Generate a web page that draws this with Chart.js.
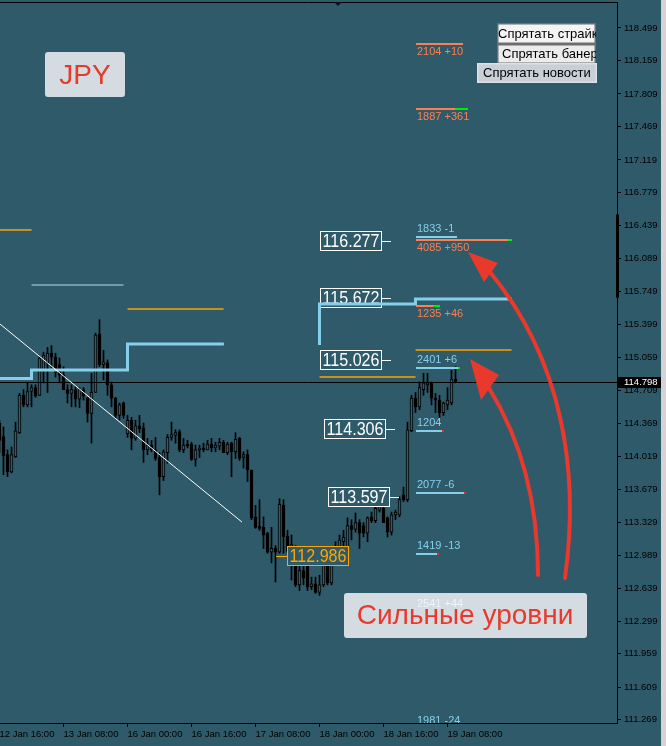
<!DOCTYPE html>
<html>
<head>
<meta charset="utf-8">
<script src="https://cdn.jsdelivr.net/npm/chart.js@4.4.1/dist/chart.umd.min.js"></script>
<style>
  html, body { margin: 0; padding: 0; background: #2f5a69; overflow: hidden; }
  #c { display: block; }
</style>
</head>
<body>
<canvas id="c" width="666" height="746"></canvas>
<script>
// USDJPY H1, bars from 12 Jan 16:00
const opens  = [114.37,114.23,114.04,113.86,114.02,114.27,114.66,114.56,114.70,114.74,114.66,114.92,115.00,115.10,115.06,114.98,114.87,114.72,114.68,114.72,114.62,114.72,114.63,114.47,114.69,115.30,114.98,115.00,114.77,114.63,114.45,114.58,114.26,114.40,114.21,114.34,114.32,114.09,114.14,114.09,114.01,113.81,114.06,114.22,114.24,114.28,114.09,114.15,114.15,113.99,114.09,114.11,114.09,114.15,114.11,114.13,114.17,114.06,114.16,114.07,114.21,114.01,114.04,113.88,113.39,113.29,113.28,113.22,113.02,113.06,113.02,113.51,113.19,113.03,113.02,112.68,112.83,112.94,112.66,112.69,112.60,112.68,112.89,112.70,112.99,113.07,113.13,113.07,113.30,113.26,113.33,113.30,113.22,113.39,113.35,113.46,113.48,113.38,113.23,113.41,113.41,113.62,113.57,114.29,114.63,114.54,114.72,114.77,114.79,114.63,114.61,114.48,114.56,114.58,114.83];
const highs  = [114.40,114.33,114.09,114.12,114.38,114.68,114.72,114.79,114.77,114.77,115.06,115.11,115.16,115.18,115.10,115.05,114.96,114.77,114.77,114.75,114.74,114.74,114.64,114.89,115.31,115.45,115.13,115.03,114.80,114.64,114.58,114.59,114.45,114.43,114.40,114.45,114.37,114.21,114.19,114.22,114.06,114.09,114.25,114.38,114.30,114.30,114.21,114.19,114.17,114.14,114.14,114.16,114.19,114.21,114.17,114.21,114.19,114.17,114.17,114.27,114.22,114.07,114.09,113.88,113.51,113.57,113.39,113.23,113.28,113.09,113.58,113.57,113.25,113.20,113.09,112.99,112.94,112.97,112.76,112.76,112.78,112.99,113.06,113.07,113.13,113.20,113.25,113.38,113.36,113.43,113.36,113.33,113.39,113.44,113.51,113.62,113.51,113.39,113.44,113.46,113.60,113.70,114.38,114.66,114.69,114.80,114.89,114.89,114.80,114.68,114.66,114.59,114.74,114.92,114.96];
const lows   = [114.06,113.83,113.81,113.85,114.01,114.26,114.54,114.54,114.54,114.64,114.66,114.79,114.69,114.95,114.85,114.79,114.72,114.58,114.54,114.54,114.53,114.61,114.38,114.16,114.69,114.96,114.82,114.66,114.54,114.42,114.40,114.42,114.22,114.09,114.19,114.27,113.96,114.04,114.07,113.98,113.62,113.77,113.95,114.19,114.16,114.07,114.06,114.11,113.98,113.92,114.01,114.07,114.09,114.07,114.07,114.09,114.06,114.04,113.81,114.00,113.98,113.90,113.76,113.36,113.27,113.25,113.06,113.01,112.91,112.71,113.01,113.01,113.01,112.73,112.66,112.62,112.68,112.62,112.63,112.59,112.57,112.66,112.68,112.68,112.94,112.99,113.04,113.04,113.15,113.23,113.06,113.18,113.13,113.33,113.33,113.44,113.33,113.18,113.20,113.36,113.39,113.55,113.55,114.28,114.48,114.51,114.66,114.69,114.56,114.48,114.43,114.45,114.51,114.56,114.79];
const closes = [114.19,114.03,113.86,114.04,114.29,114.66,114.56,114.70,114.74,114.65,115.05,115.08,115.10,115.06,114.90,114.87,114.72,114.68,114.72,114.62,114.72,114.65,114.47,114.69,115.29,114.98,115.01,114.77,114.63,114.45,114.56,114.45,114.40,114.21,114.34,114.31,114.09,114.14,114.09,114.00,113.81,114.07,114.22,114.25,114.27,114.09,114.14,114.13,113.99,114.09,114.11,114.09,114.15,114.11,114.14,114.17,114.06,114.15,114.07,114.20,114.00,114.04,113.88,113.38,113.28,113.27,113.20,113.02,113.06,113.02,113.52,113.18,113.03,113.10,112.68,112.83,112.75,112.66,112.69,112.60,112.68,112.89,112.70,112.99,113.07,113.15,113.18,113.30,113.26,113.33,113.22,113.22,113.38,113.35,113.48,113.55,113.33,113.23,113.41,113.44,113.57,113.57,114.30,114.63,114.54,114.74,114.79,114.79,114.63,114.61,114.48,114.58,114.61,114.83,114.80];

const tickBars   = [0, 16, 32, 48, 64, 80, 96, 112];
const tickLabels = ['12 Jan 16:00', '13 Jan 08:00', '16 Jan 00:00', '16 Jan 16:00', '17 Jan 08:00', '18 Jan 00:00', '18 Jan 16:00', '19 Jan 08:00'];
const priceTicks = [118.499,118.159,117.809,117.469,117.119,116.779,116.439,116.089,115.749,115.399,115.059,114.709,114.369,114.019,113.679,113.329,112.989,112.639,112.299,111.959,111.609,111.269];
const lastPrice = 114.798;

// trend line and the daily stepped level
const trendBars   = [0.125, 60.6];
const trendPrices = [115.405, 113.336];
const stepBars    = [0.125, 8, 32, 56.1, 68, 80, 80, 104, 128.1];
const stepPrices  = [114.835, 114.925, 115.197, 115.197, null, 115.186, 115.614, 115.667, 115.667];

// thin daily levels
const orangeFrom   = [0.125, 32, 80, 104];
const orangeTo     = [8, 56, 104, 128];
const orangePrices = [116.388, 115.562, 114.852, 115.134];
const paleFrom   = [8];
const paleTo     = [31];
const palePrices = [115.813];

// price labels
const boxPrices = [116.277, 115.672, 115.026, 114.306, 113.597, 112.986];

// strike tags: side 'buy' = text under line, 'sell' = text over line
const tagLabels = ['2104 +10', '1887 +361', '4085 +950', '1235 +46', '1833 -1', '2401 +6', '1204', '2077 -6', '1419 -13', '2541 +44', '1981 -24'];
const tagPrices = [118.336, 117.652, 116.283, 115.594, 116.31, 114.946, 114.287, 113.639, 113.002, 112.396, 111.17];
const tagSide   = ['buy', 'buy', 'buy', 'buy', 'sell', 'sell', 'sell', 'sell', 'sell', 'sell', 'sell'];
const tagEnds   = [115.9, 113.9, 127.1, 108.4, 114.4, 114.6, 110.9, 116.4, 109.6, null, null];
const tagTrail  = [null, 117.1, 128.1, 110.1, null, 115.1, 'dot', 'dot', 'dot', null, null];

const BG = '#2f5a69';
const BLUE = '#87ceeb';
const CORAL = '#ff7f50';
const ORANGE = '#ffa500';
const RED = '#e8392c';
const FONT = '"Liberation Sans", Arial, sans-serif';

Chart.defaults.font.family = FONT;

const idx = opens.map((_, i) => i);

const datasets = [
  {
    type: 'bar', order: 1, grouped: false, barThickness: 3,
    data: idx.map(i => ({ x: i, y: [opens[i], closes[i]] })),
    backgroundColor: ctx => closes[ctx.dataIndex] >= opens[ctx.dataIndex] ? BG : '#000',
    borderColor: '#000', borderWidth: 1, borderSkipped: false
  },
  {
    type: 'bar', order: 2, grouped: false, barThickness: 1,
    data: idx.map(i => ({ x: i, y: [lows[i], highs[i]] })),
    backgroundColor: '#000', borderWidth: 0
  },
  {
    type: 'line', order: 0,
    data: trendBars.map((b, k) => ({ x: b, y: trendPrices[k] })),
    borderColor: '#ffffff', borderWidth: 1, pointRadius: 0
  },
  {
    type: 'line', order: 0, stepped: 'before', spanGaps: false,
    data: stepBars.map((b, k) => ({ x: b, y: stepPrices[k] })),
    borderColor: BLUE, borderWidth: 3, pointRadius: 0
  }
];
orangePrices.forEach((p, k) => datasets.push({
  type: 'line', order: 0, data: [{ x: orangeFrom[k], y: p }, { x: orangeTo[k], y: p }],
  borderColor: ORANGE, borderWidth: 1.5, pointRadius: 0
}));
palePrices.forEach((p, k) => datasets.push({
  type: 'line', order: 0, data: [{ x: paleFrom[k], y: p }, { x: paleTo[k], y: p }],
  borderColor: '#b4dcec', borderWidth: 1.2, pointRadius: 0
}));

function roundRect(ctx, x, y, w, h, r) {
  ctx.beginPath();
  ctx.moveTo(x + r, y);
  ctx.arcTo(x + w, y, x + w, y + h, r);
  ctx.arcTo(x + w, y + h, x, y + h, r);
  ctx.arcTo(x, y + h, x, y, r);
  ctx.arcTo(x, y, x + w, y, r);
  ctx.closePath();
}

function curvedArrow(ctx, p0, c1, c2, p3, tip, b1, b2) {
  ctx.strokeStyle = RED;
  ctx.fillStyle = RED;
  ctx.lineWidth = 4;
  ctx.lineCap = 'round';
  ctx.beginPath();
  ctx.moveTo(p0[0], p0[1]);
  ctx.bezierCurveTo(c1[0], c1[1], c2[0], c2[1], p3[0], p3[1]);
  ctx.stroke();
  ctx.beginPath();
  ctx.moveTo(tip[0], tip[1]);
  ctx.lineTo(b1[0], b1[1]);
  ctx.lineTo(b2[0], b2[1]);
  ctx.closePath();
  ctx.fill();
}

const overlay = {
  id: 'overlay',
  afterDatasetDraw(chart, args) {
    if (args.index !== 0) return;
    const { ctx, chartArea: a } = chart;
    const y = chart.scales.y;
    ctx.save();
    ctx.beginPath(); ctx.rect(a.left, a.top, a.right - a.left, a.bottom - a.top); ctx.clip();
    // bid line
    const yb = Math.round(y.getPixelForValue(lastPrice)) + 0.5;
    ctx.strokeStyle = '#000'; ctx.lineWidth = 1;
    ctx.beginPath(); ctx.moveTo(a.left, yb); ctx.lineTo(a.right, yb); ctx.stroke();
    // price boxes
    const lefts = [320, 320, 320, 324, 328, 287];
    boxPrices.forEach((p, k) => {
      const col = k === 5 ? ORANGE : '#ffffff';
      const yc = Math.round(y.getPixelForValue(p));
      const x = lefts[k], w = 61, h = 19;
      ctx.fillStyle = BG; ctx.fillRect(x, yc - 9, w, h);
      ctx.strokeStyle = col; ctx.lineWidth = 1;
      ctx.strokeRect(x + 0.5, yc - 9.5, w, h);
      ctx.beginPath();
      if (k === 5) { ctx.moveTo(x - 11, yc + 0.5); ctx.lineTo(x, yc + 0.5); }
      else { ctx.moveTo(x + w, yc + 0.5); ctx.lineTo(x + w + 10, yc + 0.5); }
      ctx.stroke();
      ctx.fillStyle = col;
      ctx.font = '19px ' + FONT;
      ctx.textAlign = 'center'; ctx.textBaseline = 'middle';
      ctx.fillText(p.toFixed(3), x + w / 2 + 0.5, yc + 1, w - 4);
    });
    ctx.restore();
  },
  afterDatasetsDraw(chart) {
    const { ctx, chartArea: a } = chart;
    const x = chart.scales.x, y = chart.scales.y;
    ctx.save();
    ctx.beginPath(); ctx.rect(a.left, a.top, a.right - a.left, a.bottom - a.top); ctx.clip();
    ctx.font = '11px ' + FONT;
    ctx.textAlign = 'left'; ctx.textBaseline = 'middle';
    const x0 = Math.round(x.getPixelForValue(104));
    tagLabels.forEach((t, k) => {
      if (k === 9) return;
      const buy = tagSide[k] === 'buy';
      const col = buy ? CORAL : BLUE;
      const yl = Math.round(y.getPixelForValue(tagPrices[k]));
      if (tagEnds[k] !== null) {
        const x1 = Math.round(x.getPixelForValue(tagEnds[k]));
        ctx.fillStyle = col; ctx.fillRect(x0, yl - 1, x1 - x0, 2);
        const tr = tagTrail[k];
        if (tr === 'dot') { ctx.fillStyle = '#ff2020'; ctx.fillRect(x1 - 1, yl - 1, 2, 2); }
        else if (tr !== null) {
          const x2 = Math.round(x.getPixelForValue(tr));
          ctx.fillStyle = '#00ee00'; ctx.fillRect(x1, yl - 1, x2 - x1, 2);
        }
      }
      ctx.fillStyle = col;
      ctx.fillText(t, x0 + 1, buy ? yl + 8 : yl - 8);
    });

    // JPY badge
    ctx.fillStyle = '#d5dce1'; roundRect(ctx, 45, 52, 80, 45, 3); ctx.fill();
    ctx.fillStyle = RED; ctx.font = '28px ' + FONT;
    ctx.textAlign = 'center'; ctx.textBaseline = 'middle';
    ctx.fillText('JPY', 85, 76);

    // strong levels badge
    ctx.fillStyle = '#d5dce1'; roundRect(ctx, 344, 593, 243, 45, 3); ctx.fill();
    ctx.fillStyle = RED; ctx.font = '28px ' + FONT;
    ctx.fillText('Сильные уровни', 465, 616);
    ctx.font = '11px ' + FONT; ctx.textAlign = 'left';
    ctx.fillStyle = '#eef4f7';
    ctx.fillText(tagLabels[9], x0 + 1, Math.round(y.getPixelForValue(tagPrices[9])) - 8);

    // arrows
    curvedArrow(ctx, [538, 575], [538, 490], [515, 430], [489, 388], [470, 359], [499, 375], [481, 400]);
    curvedArrow(ctx, [565, 578], [580, 470], [562, 360], [490, 272], [468, 252], [498, 263], [484, 282]);

    // buttons
    ctx.textBaseline = 'middle'; ctx.textAlign = 'left';
    ctx.font = '13px ' + FONT;
    const btn = (bx, by, bw, bh, fill, line, text, tx) => {
      ctx.fillStyle = fill; ctx.fillRect(bx, by, bw, bh);
      ctx.strokeStyle = line; ctx.lineWidth = 1.5; ctx.strokeRect(bx + 0.75, by + 0.75, bw - 1.5, bh - 1.5);
      ctx.save(); ctx.beginPath(); ctx.rect(bx, by, bw, bh); ctx.clip();
      ctx.fillStyle = '#000'; ctx.fillText(text, tx, by + bh / 2 + 0.5);
      ctx.restore();
    };
    btn(497, 23, 99, 21, '#f4f4f4', '#6e6e6e', 'Спрятать страйк', 498);
    btn(497, 44, 99, 20, '#ececec', '#6e6e6e', 'Спрятать банер', 502);
    btn(477, 63, 120, 20, '#c9ced7', '#dde1e7', 'Спрятать новости', 483);
    ctx.restore();
  },
  afterDraw(chart) {
    const { ctx, chartArea: a } = chart;
    const y = chart.scales.y;
    ctx.save();
    // frame top + chart shift marker
    ctx.strokeStyle = '#000'; ctx.lineWidth = 1;
    ctx.beginPath(); ctx.moveTo(0, a.top + 0.5); ctx.lineTo(a.right, a.top + 0.5); ctx.stroke();
    ctx.fillStyle = '#111';
    ctx.beginPath(); ctx.moveTo(334, a.top); ctx.lineTo(342, a.top); ctx.lineTo(338, a.top + 4); ctx.closePath(); ctx.fill();
    // scroll mark on the price axis
    const t1 = y.getPixelForValue(116.55), t2 = y.getPixelForValue(115.68);
    ctx.fillStyle = '#000'; ctx.fillRect(a.right - 1, t1, 3, t2 - t1);
    // bid label
    const yb = Math.round(y.getPixelForValue(lastPrice));
    ctx.fillStyle = '#000'; ctx.fillRect(a.right + 1, yb - 5, 43, 11);
    ctx.fillStyle = '#ffffff'; ctx.font = '9.5px ' + FONT;
    ctx.textAlign = 'left'; ctx.textBaseline = 'middle';
    ctx.fillText(lastPrice.toFixed(3), a.right + 7, yb + 0.5);
    // window edge
    ctx.fillStyle = '#d4d4d4'; ctx.fillRect(661, 0, 5, 746);
    ctx.restore();
  }
};

new Chart(document.getElementById('c'), {
  type: 'bar',
  data: { datasets },
  plugins: [overlay],
  options: {
    responsive: false,
    animation: false,
    devicePixelRatio: 1,
    events: [],
    layout: { padding: { top: 2, left: 0, right: 0, bottom: 0 } },
    plugins: { legend: { display: false }, tooltip: { enabled: false } },
    scales: {
      x: {
        type: 'linear', min: 0.125, max: 154.375, offset: false,
        grid: { display: true, drawOnChartArea: false, drawTicks: true, tickLength: 4, color: '#000', offset: false },
        border: { display: true, color: '#000', width: 1 },
        ticks: {
          color: '#000', font: { size: 9.5 }, align: 'start', maxRotation: 0, autoSkip: false, padding: 2,
          callback: v => { const k = tickBars.indexOf(v); return k < 0 ? '' : tickLabels[k]; }
        },
        afterBuildTicks: s => { s.ticks = tickBars.map(v => ({ value: v })); },
        afterFit: s => { s.height = 23; s.paddingLeft = 0; s.paddingRight = 0; }
      },
      y: {
        position: 'right', min: 111.236, max: 118.770,
        grid: { display: true, drawOnChartArea: false, drawTicks: true, tickLength: 4, color: '#000' },
        border: { display: true, color: '#000', width: 1 },
        ticks: { color: '#000', font: { size: 9.5 }, padding: 3, callback: v => v.toFixed(3) },
        afterBuildTicks: s => { s.ticks = priceTicks.map(v => ({ value: v })); },
        afterFit: s => { s.width = 49; s.paddingTop = 0; s.paddingBottom = 0; }
      }
    }
  }
});
</script>
</body>
</html>
